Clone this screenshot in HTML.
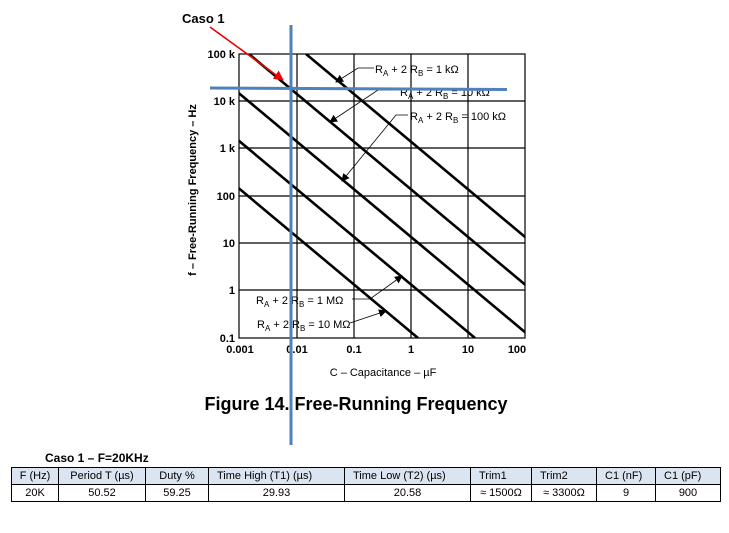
<!DOCTYPE html>
<html><head><style>
body{margin:0;background:#fff;width:729px;height:533px;overflow:hidden;font-family:"Liberation Sans",Arial,sans-serif}
svg{position:absolute;left:0;top:0}
table{position:absolute;left:11px;top:467px;border-collapse:collapse;font-family:"Liberation Sans",sans-serif;font-size:11px}
td{border:1px solid #000;height:16px;padding:0;text-align:center}
tr.h td{background:#dbe5f1}
</style></head><body>
<svg width="729" height="533" viewBox="0 0 729 533" font-family="Liberation Sans, Arial, sans-serif">
<defs><marker id="a" markerWidth="8" markerHeight="8" refX="7" refY="4" orient="auto" markerUnits="userSpaceOnUse"><path d="M0,0L8,4L0,8z" fill="#000"/></marker>
<marker id="r" markerWidth="10" markerHeight="10" refX="9" refY="5" orient="auto" markerUnits="userSpaceOnUse"><path d="M0,0L10,5L0,10z" fill="#e00"/></marker></defs>
<g stroke="#000" stroke-width="1.2" fill="none">
<rect x="239" y="54" width="286" height="284"/>
<line x1="297" y1="54" x2="297" y2="338"/><line x1="354" y1="54" x2="354" y2="338"/><line x1="411" y1="54" x2="411" y2="338"/><line x1="468" y1="54" x2="468" y2="338"/>
<line x1="239" y1="101" x2="525" y2="101"/><line x1="239" y1="148" x2="525" y2="148"/><line x1="239" y1="196" x2="525" y2="196"/><line x1="239" y1="243" x2="525" y2="243"/><line x1="239" y1="290" x2="525" y2="290"/>
</g>
<clipPath id="c"><rect x="239" y="54" width="286" height="284"/></clipPath>
<g stroke="#000" stroke-width="2.6" clip-path="url(#c)">
<line x1="306" y1="54" x2="646" y2="338"/>
<line x1="249" y1="54" x2="589" y2="338"/>
<line x1="192" y1="54" x2="532" y2="338"/>
<line x1="135" y1="54" x2="475" y2="338"/>
<line x1="78" y1="54" x2="418" y2="338"/>
</g>
<g font-size="11" font-weight="bold" text-anchor="end">
<text x="235" y="58">100 k</text><text x="235" y="105">10 k</text><text x="235" y="152">1 k</text><text x="235" y="200">100</text><text x="235" y="247">10</text><text x="235" y="294">1</text><text x="235" y="342">0.1</text>
</g>
<g font-size="11" font-weight="bold" text-anchor="middle">
<text x="240" y="353">0.001</text><text x="297" y="353">0.01</text><text x="354" y="353">0.1</text><text x="411" y="353">1</text><text x="468" y="353">10</text><text x="517" y="353">100</text>
</g>
<text x="383" y="376" font-size="11" text-anchor="middle">C – Capacitance – µF</text>
<text transform="translate(196,190) rotate(-90)" font-size="11" font-weight="bold" text-anchor="middle">f – Free-Running Frequency – Hz</text>
<text x="356" y="410" font-size="18" font-weight="bold" text-anchor="middle">Figure 14.  Free-Running Frequency</text>
<g font-size="11">
<text x="375" y="73">R<tspan font-size="8" dy="3">A</tspan><tspan dy="-3"> + 2 R</tspan><tspan font-size="8" dy="3">B</tspan><tspan dy="-3"> = 1 kΩ</tspan></text>
<text x="400" y="96">R<tspan font-size="8" dy="3">A</tspan><tspan dy="-3"> + 2 R</tspan><tspan font-size="8" dy="3">B</tspan><tspan dy="-3"> = 10 kΩ</tspan></text>
<text x="410" y="120">R<tspan font-size="8" dy="3">A</tspan><tspan dy="-3"> + 2 R</tspan><tspan font-size="8" dy="3">B</tspan><tspan dy="-3"> = 100 kΩ</tspan></text>
<text x="256" y="304">R<tspan font-size="8" dy="3">A</tspan><tspan dy="-3"> + 2 R</tspan><tspan font-size="8" dy="3">B</tspan><tspan dy="-3"> = 1 MΩ</tspan></text>
<text x="257" y="328">R<tspan font-size="8" dy="3">A</tspan><tspan dy="-3"> + 2 R</tspan><tspan font-size="8" dy="3">B</tspan><tspan dy="-3"> = 10 MΩ</tspan></text>
</g>
<g stroke="#000" stroke-width="0.8" fill="none">
<polyline points="374,68 358,68 336,82" marker-end="url(#a)"/>
<polyline points="398,90 378,90 330,122" marker-end="url(#a)"/>
<polyline points="408,115 396,115 342,181" marker-end="url(#a)"/>
<polyline points="352,299 370,299 402,276" marker-end="url(#a)"/>
<polyline points="350,323 386,311" marker-end="url(#a)"/>
</g>
<line x1="291" y1="25" x2="291" y2="445" stroke="#4f81bd" stroke-width="3"/>
<line x1="210" y1="88" x2="507" y2="89.5" stroke="#4f81bd" stroke-width="3"/>
<line x1="210" y1="27" x2="283" y2="80" stroke="#e00" stroke-width="1.6" marker-end="url(#r)"/>
<text x="182" y="23" font-size="13" font-weight="bold">Caso 1</text>
<text x="45" y="462" font-size="12" font-weight="bold">Caso 1 –  F=20KHz</text>
</svg>
<table>
<tr class="h"><td style="width:46px">F (Hz)</td><td style="width:86px">Period T (µs)</td><td style="width:62px">Duty %</td><td style="text-align:left;padding-left:8px;width:127px">Time High (T1) (µs)</td><td style="width:117px;text-align:left;padding-left:8px">Time Low (T2) (µs)</td><td style="width:52px;text-align:left;padding-left:8px">Trim1</td><td style="width:56px;text-align:left;padding-left:8px">Trim2</td><td style="width:50px;text-align:left;padding-left:8px">C1 (nF)</td><td style="width:56px;text-align:left;padding-left:8px">C1 (pF)</td></tr>
<tr><td>20K</td><td>50.52</td><td>59.25</td><td>29.93</td><td>20.58</td><td>≈ 1500Ω</td><td>≈ 3300Ω</td><td>9</td><td>900</td></tr>
</table>
</body></html>
